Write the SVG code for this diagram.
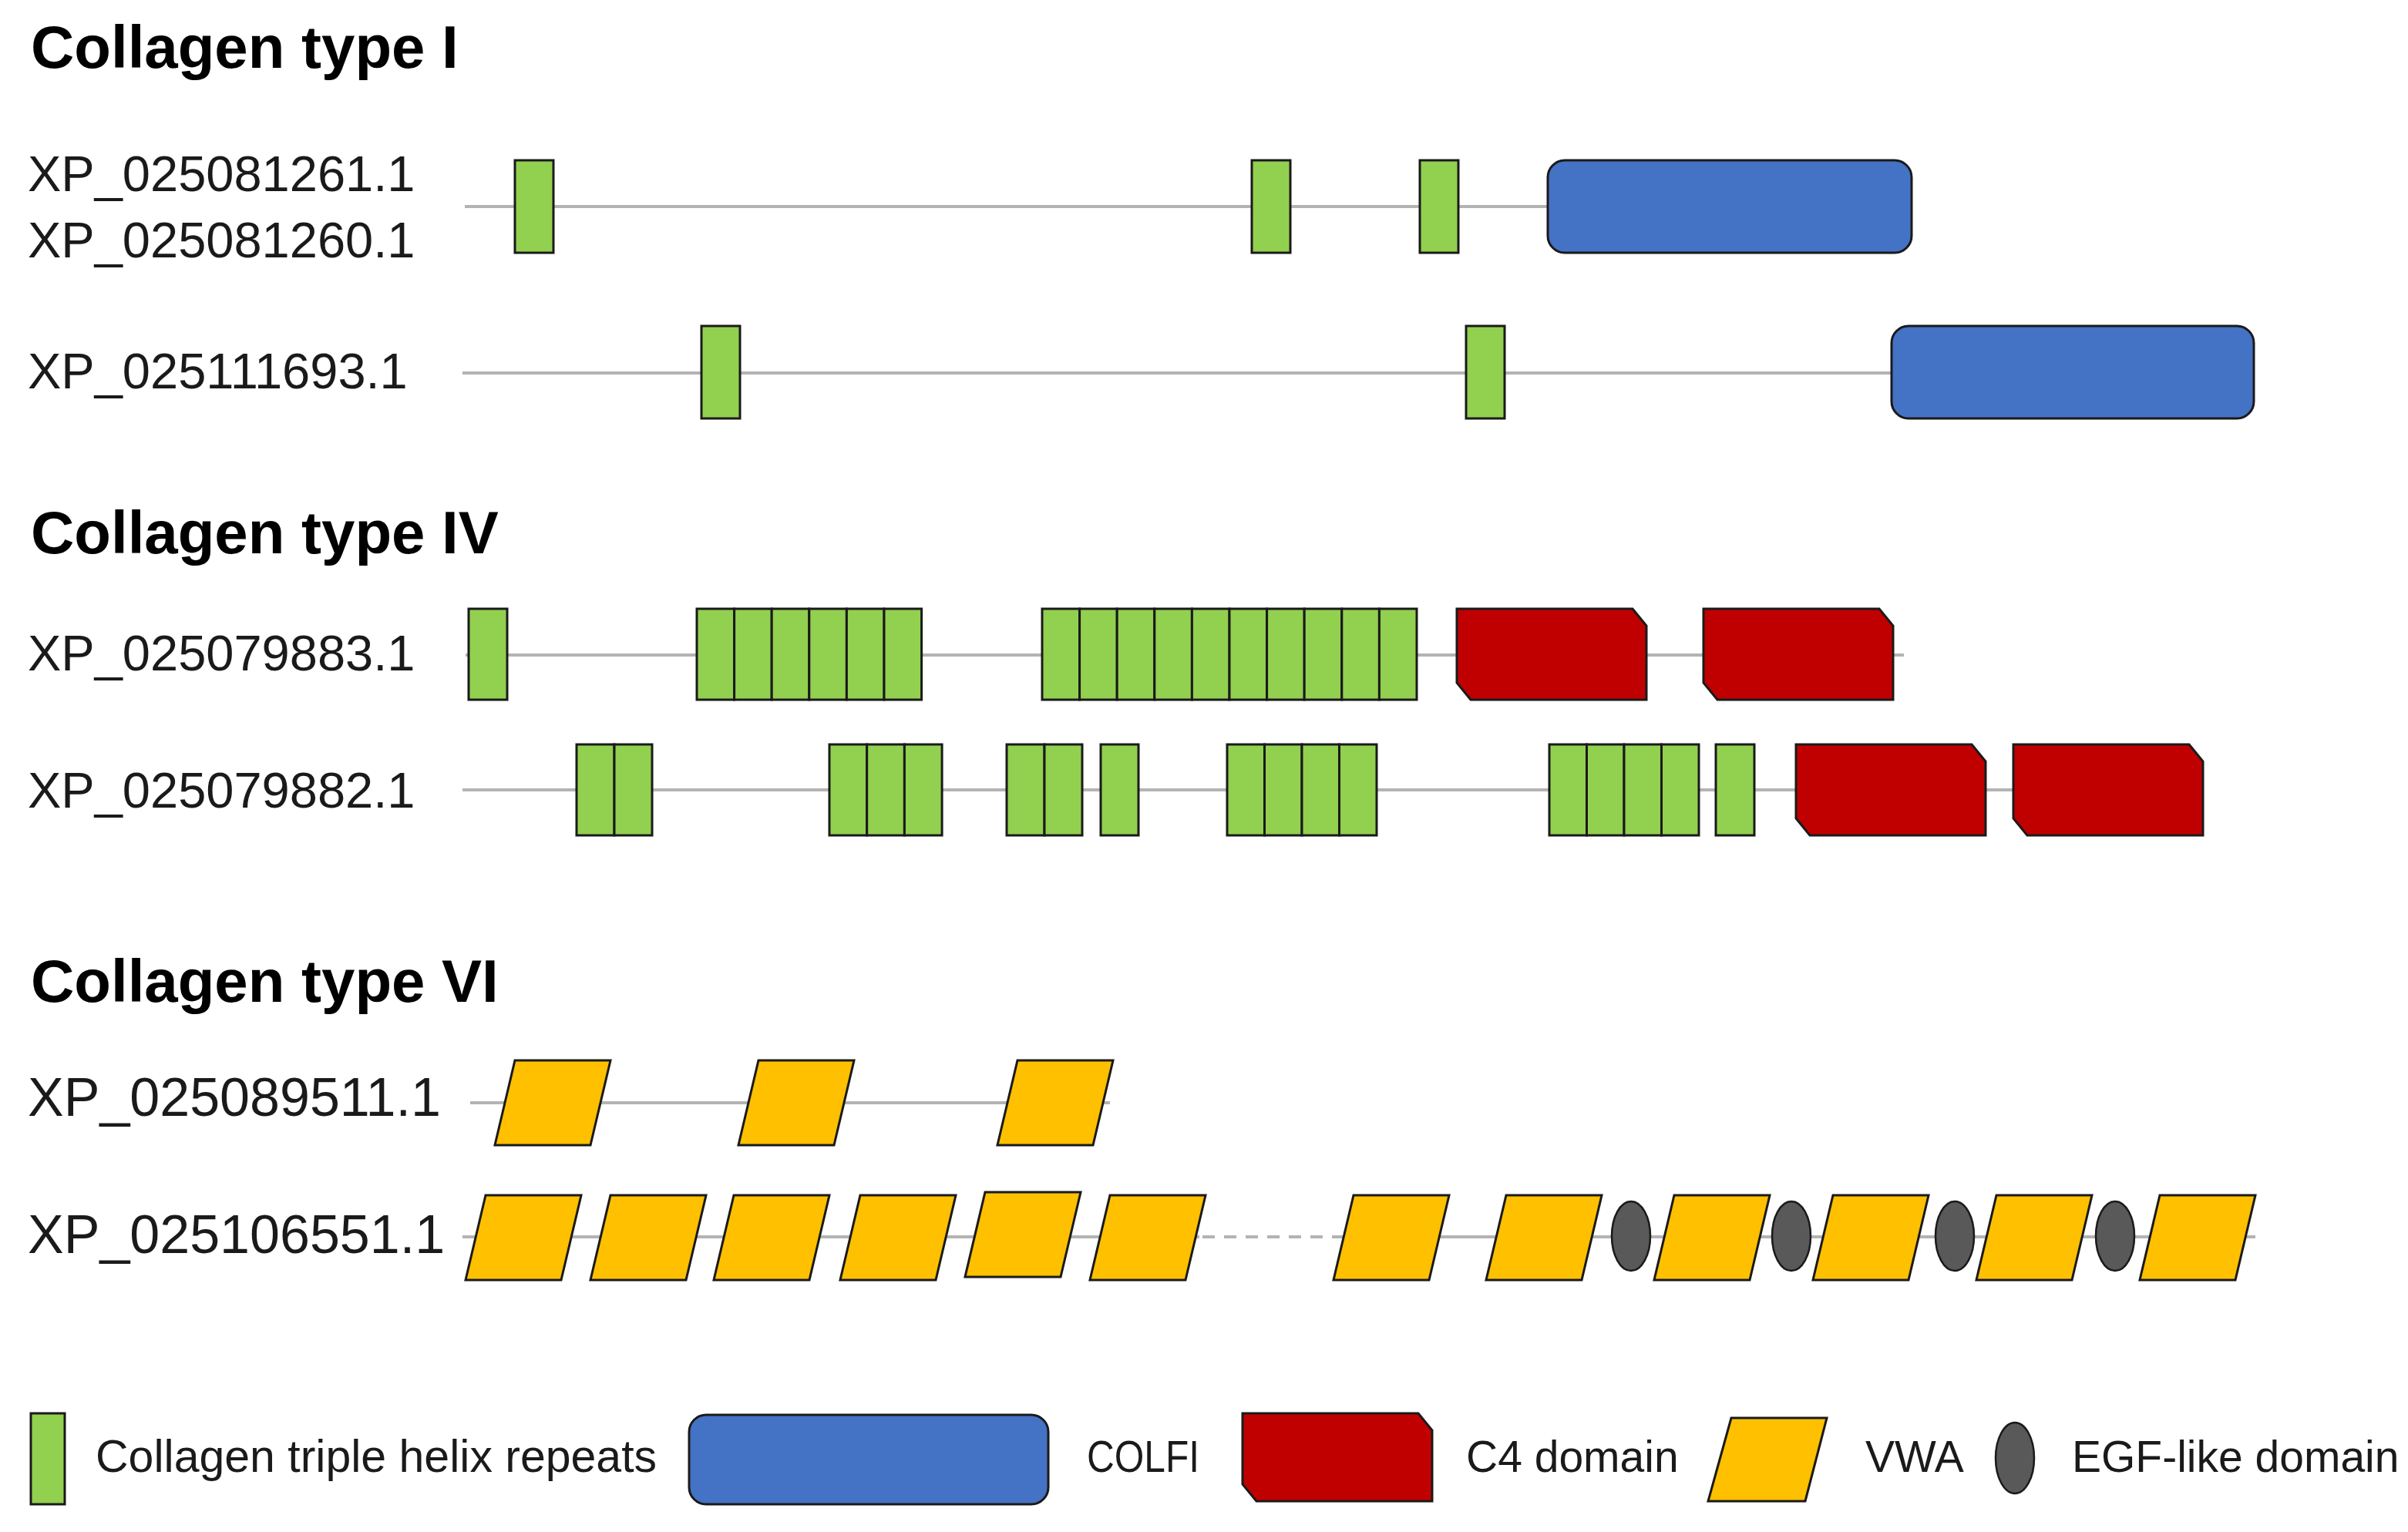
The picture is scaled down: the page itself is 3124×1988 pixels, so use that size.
<svg xmlns="http://www.w3.org/2000/svg" width="3124" height="1988" viewBox="0 0 3124 1988">
<defs>
<style>
.title{font-family:"Liberation Sans",Arial,sans-serif;font-weight:bold;font-size:78px;fill:#000}
.lab{font-family:"Liberation Sans",Arial,sans-serif;font-size:65px;fill:#1a1a1a}
.lab3{font-family:"Liberation Sans",Arial,sans-serif;font-size:70px;fill:#1a1a1a}
.leg{font-family:"Liberation Sans",Arial,sans-serif;font-size:57px;fill:#1a1a1a}
.leg.big{font-size:59px}
.col{fill:#92D050;stroke:#1a1a1a;stroke-width:3}
.colfi{fill:#4472C4;stroke:#1a1a1a;stroke-width:3}
.c4{fill:#C00000;stroke:#1a1a1a;stroke-width:3}
.vwa{fill:#FFC000;stroke:#1a1a1a;stroke-width:3}
.egf{fill:#595959;stroke:#1a1a1a;stroke-width:2.5}
.ln{stroke:#B3B3B3;stroke-width:4;fill:none}
.dash{stroke:#B3B3B3;stroke-width:4;fill:none;stroke-dasharray:16 12}
</style>
</defs>
<rect width="3124" height="1988" fill="#fff"/>

<g id="connectors">
<line class="ln" x1="603" y1="268" x2="2008" y2="268"/>
<line class="ln" x1="600" y1="484" x2="2454" y2="484"/>
<line class="ln" x1="604" y1="850" x2="2470" y2="850"/>
<line class="ln" x1="600" y1="1025" x2="2858" y2="1025"/>
<line class="ln" x1="610" y1="1431" x2="1440" y2="1431"/>
<line class="ln" x1="600" y1="1605" x2="1556" y2="1605"/>
<line class="dash" x1="1560" y1="1605" x2="1742" y2="1605"/>
<line class="ln" x1="1742" y1="1605" x2="2926" y2="1605"/>
</g>

<g id="titles">
<text class="title" x="40" y="88">Collagen type I</text>
<text class="title" x="40" y="718">Collagen type IV</text>
<text class="title" x="40" y="1300">Collagen type VI</text>
</g>

<g id="col1-row1">
<text class="lab" x="36" y="248">XP_025081261.1</text>
<text class="lab" x="36" y="334">XP_025081260.1</text>
<rect class="col" x="668" y="208" width="50" height="120"/>
<rect class="col" x="1624" y="208" width="50" height="120"/>
<rect class="col" x="1842" y="208" width="50" height="120"/>
<rect class="colfi" x="2008" y="208" width="472" height="120" rx="22"/>
</g>

<g id="col1-row2">
<text class="lab" x="36" y="504">XP_025111693.1</text>
<rect class="col" x="910" y="423" width="50" height="120"/>
<rect class="col" x="1902" y="423" width="50" height="120"/>
<rect class="colfi" x="2454" y="423" width="470" height="120" rx="22"/>
</g>

<g id="col4-row1">
<text class="lab" x="36" y="870">XP_025079883.1</text>
<rect class="col" x="608" y="790" width="50" height="118"/>
<rect class="col" x="904" y="790" width="48.6" height="118"/>
<rect class="col" x="952.6" y="790" width="48.6" height="118"/>
<rect class="col" x="1001.2" y="790" width="48.6" height="118"/>
<rect class="col" x="1049.8" y="790" width="48.6" height="118"/>
<rect class="col" x="1098.4" y="790" width="48.6" height="118"/>
<rect class="col" x="1147" y="790" width="48.6" height="118"/>
<rect class="col" x="1352" y="790" width="48.6" height="118"/>
<rect class="col" x="1400.6" y="790" width="48.6" height="118"/>
<rect class="col" x="1449.2" y="790" width="48.6" height="118"/>
<rect class="col" x="1497.8" y="790" width="48.6" height="118"/>
<rect class="col" x="1546.4" y="790" width="48.6" height="118"/>
<rect class="col" x="1595" y="790" width="48.6" height="118"/>
<rect class="col" x="1643.6" y="790" width="48.6" height="118"/>
<rect class="col" x="1692.2" y="790" width="48.6" height="118"/>
<rect class="col" x="1740.8" y="790" width="48.6" height="118"/>
<rect class="col" x="1789.4" y="790" width="48.6" height="118"/>
<path class="c4" d="M1890,790 L2118,790 L2136,812 L2136,908 L1908,908 L1890,886 Z"/>
<path class="c4" d="M2210,790 L2438,790 L2456,812 L2456,908 L2228,908 L2210,886 Z"/>
</g>

<g id="col4-row2">
<text class="lab" x="36" y="1048">XP_025079882.1</text>
<rect class="col" x="748" y="966" width="49" height="118"/>
<rect class="col" x="797" y="966" width="49" height="118"/>
<rect class="col" x="1076" y="966" width="48.7" height="118"/>
<rect class="col" x="1124.7" y="966" width="48.7" height="118"/>
<rect class="col" x="1173.4" y="966" width="48.7" height="118"/>
<rect class="col" x="1306" y="966" width="49" height="118"/>
<rect class="col" x="1355" y="966" width="49" height="118"/>
<rect class="col" x="1428" y="966" width="49" height="118"/>
<rect class="col" x="1592" y="966" width="48.5" height="118"/>
<rect class="col" x="1640.5" y="966" width="48.5" height="118"/>
<rect class="col" x="1689" y="966" width="48.5" height="118"/>
<rect class="col" x="1737.5" y="966" width="48.5" height="118"/>
<rect class="col" x="2010" y="966" width="48.5" height="118"/>
<rect class="col" x="2058.5" y="966" width="48.5" height="118"/>
<rect class="col" x="2107" y="966" width="48.5" height="118"/>
<rect class="col" x="2155.5" y="966" width="48.5" height="118"/>
<rect class="col" x="2226" y="966" width="50" height="118"/>
<path class="c4" d="M2330,966 L2558,966 L2576,988 L2576,1084 L2348,1084 L2330,1062 Z"/>
<path class="c4" d="M2612,966 L2840,966 L2858,988 L2858,1084 L2630,1084 L2612,1062 Z"/>
</g>

<g id="col6-row1">
<text class="lab3" x="36" y="1448">XP_025089511.1</text>
<polygon class="vwa" points="668,1376 792,1376 766,1486 642,1486"/>
<polygon class="vwa" points="984,1376 1108,1376 1082,1486 958,1486"/>
<polygon class="vwa" points="1320,1376 1444,1376 1418,1486 1294,1486"/>
</g>

<g id="col6-row2">
<text class="lab3" x="36" y="1626">XP_025106551.1</text>
<polygon class="vwa" points="630,1551 754,1551 728,1661 604,1661"/>
<polygon class="vwa" points="792,1551 916,1551 890,1661 766,1661"/>
<polygon class="vwa" points="952,1551 1076,1551 1050,1661 926,1661"/>
<polygon class="vwa" points="1116,1551 1240,1551 1214,1661 1090,1661"/>
<polygon class="vwa" points="1278,1547 1402,1547 1376,1657 1252,1657"/>
<polygon class="vwa" points="1440,1551 1564,1551 1538,1661 1414,1661"/>
<polygon class="vwa" points="1756,1551 1880,1551 1854,1661 1730,1661"/>
<polygon class="vwa" points="1954,1551 2078,1551 2052,1661 1928,1661"/>
<ellipse class="egf" cx="2116" cy="1604" rx="25" ry="45"/>
<polygon class="vwa" points="2172,1551 2296,1551 2270,1661 2146,1661"/>
<ellipse class="egf" cx="2324" cy="1604" rx="25" ry="45"/>
<polygon class="vwa" points="2378,1551 2502,1551 2476,1661 2352,1661"/>
<ellipse class="egf" cx="2536" cy="1604" rx="25" ry="45"/>
<polygon class="vwa" points="2590,1551 2714,1551 2688,1661 2564,1661"/>
<ellipse class="egf" cx="2744" cy="1604" rx="25" ry="45"/>
<polygon class="vwa" points="2802,1551 2926,1551 2900,1661 2776,1661"/>
</g>

<g id="legend">
<rect class="col" x="40" y="1834" width="44" height="118"/>
<text class="leg big" x="124" y="1910">Collagen triple helix repeats</text>
<rect class="colfi" x="894" y="1836" width="466" height="116" rx="22"/>
<text class="leg" x="1410" y="1910" textLength="146" lengthAdjust="spacingAndGlyphs">COLFI</text>
<path class="c4" d="M1612,1834 L1840,1834 L1858,1856 L1858,1948 L1630,1948 L1612,1926 Z"/>
<text class="leg" x="1902" y="1910">C4 domain</text>
<polygon class="vwa" points="2246,1840 2370,1840 2342,1948 2216,1948"/>
<text class="leg" x="2420" y="1910">VWA</text>
<ellipse class="egf" cx="2614" cy="1892" rx="25" ry="46"/>
<text class="leg" x="2688" y="1910">EGF-like domain</text>
</g>
</svg>
